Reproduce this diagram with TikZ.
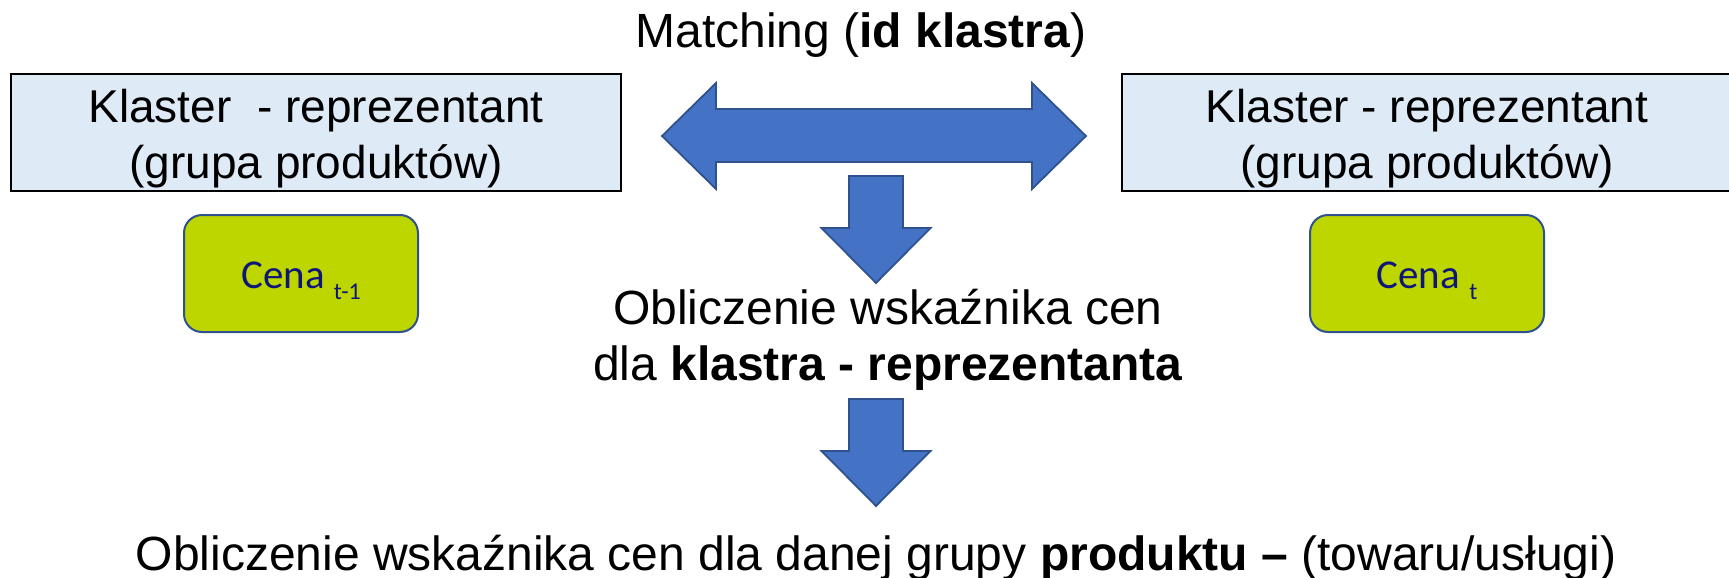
\documentclass[tikz,border=0pt]{standalone}
\usepackage{fontspec}
\setmainfont{Liberation Sans}
\newfontfamily\calibri{Carlito}
\usetikzlibrary{positioning}
\definecolor{tloKlastra}{RGB}{222,235,247}
\definecolor{zielen}{RGB}{190,214,0}
\definecolor{granat}{RGB}{14,22,120}
\definecolor{niebieski}{HTML}{4472C4}
\definecolor{obwodka}{HTML}{2F528F}
\tikzset{
  klaster/.style = {draw = black, line width = 1pt, fill = tloKlastra, minimum width = 305pt, minimum height = 58.5pt, inner sep = 0pt},
  tekstKlastra/.style = {align = center, inner sep = 0pt, font = \fontsize{23}{28}\selectfont},
  cena/.style = {draw = obwodka, line width = 1pt, fill = zielen, rounded corners = 9pt, minimum width = 117pt, minimum height = 58.5pt, text = granat, text height = 14.5pt, text depth = 0pt, font = \calibri\fontsize{20.5}{22}\selectfont},
  napis/.style = {align = center, inner sep = 0pt, font = \fontsize{24}{28}\selectfont},
  strzalka/.style = {fill = niebieski, draw = obwodka, line width = 0.9pt, line join = miter}
}
\newcommand{\dolny}[1]{\raisebox{-5.5pt}{\fontsize{12}{12}\selectfont #1}}
% strzalka w dol: x srodka, y gory, nazwa grotu
\newcommand{\strzalkaDol}[3]{
\draw[strzalka] (#1-27,#2) -- (#1+27,#2) -- (#1+27,#2+52) -- (#1+54.5,#2+52) -- (#1,#2+107) -- (#1-54.5,#2+52) -- (#1-27,#2+52) -- cycle;
\coordinate (#3) at (#1,#2+107);
}

\begin{document}
\begin{tikzpicture}[x = 0.5pt, y = -0.5pt]
    \useasboundingbox (0,0) rectangle (1729,578);
    % Klastry
    \node[klaster] (klasterL) at (316,132.5) {};
    \node[tekstKlastra, below = 8pt of klasterL.north] (opisL) {Klaster\ \ - reprezentant\\(grupa produktów)};
    \node[klaster] (klasterP) at (1427,132.5) {};
    \node[tekstKlastra, below = 8pt of klasterP.north] (opisP) {Klaster - reprezentant\\(grupa produktów)};
    % Ceny
    \node[cena] (cenaL) at (301,273.5) {Cena \dolny{t-1}};
    \node[cena] (cenaP) at (1427,273.5) {Cena \dolny{t}};
    % Matching
    \node[napis, anchor = base] (matching) at (861,47) {Matching (\textbf{id klastra})};
    \draw[strzalka] (662,136) -- (716,83) -- (716,109) -- (1032,109) -- (1032,83) -- (1086,136)
        -- (1032,189) -- (1032,162) -- (716,162) -- (716,189) -- cycle;
    % Indeks dla klastra
    \strzalkaDol{876}{176}{grot1}
    \node[napis, below = 3pt of grot1, xshift = 6pt] (obliczenie) {Obliczenie wskaźnika cen\\dla \textbf{klastra - reprezentanta}};
    % Indeks dla produktu
    \strzalkaDol{876}{399}{grot2}
    \node[napis, anchor = base] (wynik) at (876,570) {Obliczenie wskaźnika cen dla danej grupy \textbf{produktu –} (towaru/usługi)};
\end{tikzpicture}
\end{document}
